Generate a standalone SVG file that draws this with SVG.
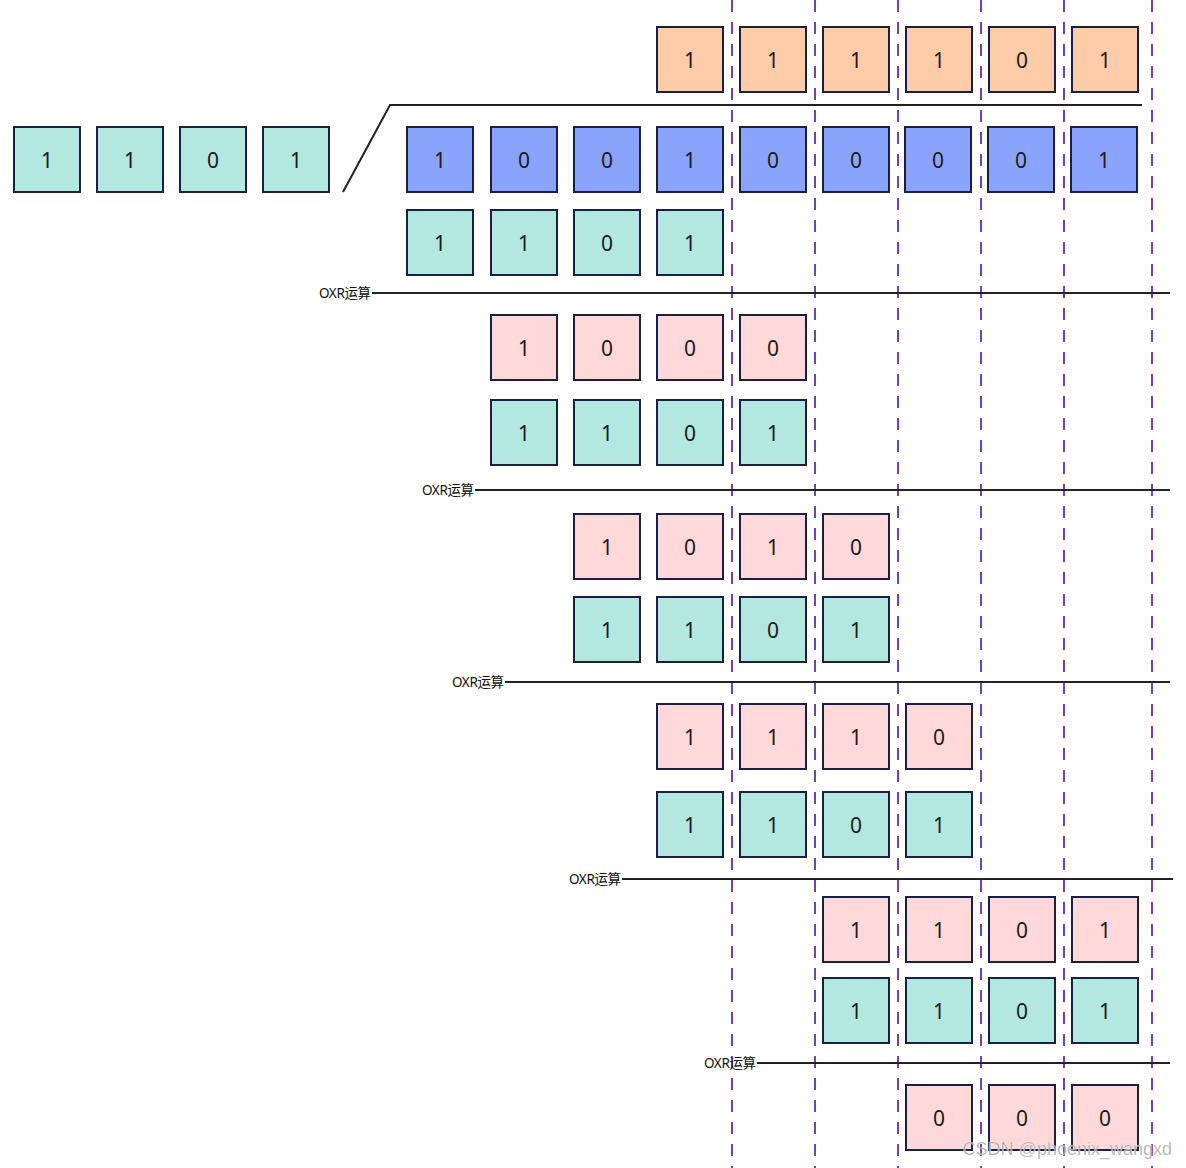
<svg xmlns="http://www.w3.org/2000/svg" width="1186" height="1168" viewBox="0 0 1186 1168">
<style>
.b{stroke:#1b1f45;stroke-width:2}
.o{fill:#ffcca9}
.u{fill:#8aa4fe}
.t{fill:#b2e8e0}
.p{fill:#ffd9d9}
.n{font-family:"Noto Sans","DejaVu Sans",sans-serif;font-size:21px;fill:#1a1a1a;text-anchor:middle;dominant-baseline:central}
.l{font-family:"Noto Sans","Noto Sans CJK SC",sans-serif;font-size:13.5px;fill:#111;text-anchor:start;dominant-baseline:central;letter-spacing:-0.4px}
.d{stroke:#7a3db5;stroke-width:2;stroke-dasharray:12 10;fill:none}
.k{stroke:#222;stroke-width:2;fill:none}
</style>
<g id="dashes">
<line class="d" x1="732" y1="0" x2="732" y2="1168"/>
<line class="d" x1="815" y1="0" x2="815" y2="1168"/>
<line class="d" x1="898" y1="0" x2="898" y2="1168"/>
<line class="d" x1="981" y1="0" x2="981" y2="1168"/>
<line class="d" x1="1064" y1="0" x2="1064" y2="1168"/>
<line class="d" x1="1152" y1="0" x2="1152" y2="1168"/>
</g>
<g id="connectors">
<polyline class="k" points="343,192 390,105 1142,105"/>
<line class="k" x1="372" y1="293" x2="1170" y2="293"/>
<line class="k" x1="475" y1="490" x2="1170" y2="490"/>
<line class="k" x1="505" y1="682" x2="1170" y2="682"/>
<line class="k" x1="622" y1="879" x2="1173" y2="879"/>
<line class="k" x1="757" y1="1063" x2="1170" y2="1063"/>
</g>
<g id="labels">
<text class="l" x="319" y="293">OXR运算</text>
<text class="l" x="422" y="490">OXR运算</text>
<text class="l" x="452" y="682">OXR运算</text>
<text class="l" x="569" y="879">OXR运算</text>
<text class="l" x="704" y="1063">OXR运算</text>
</g>
<g id="div0"><rect class="b t" x="14" y="127" width="66" height="65"/><text class="n" x="47" y="160">1</text></g>
<g id="div1"><rect class="b t" x="97" y="127" width="66" height="65"/><text class="n" x="130" y="160">1</text></g>
<g id="div2"><rect class="b t" x="180" y="127" width="66" height="65"/><text class="n" x="213" y="160">0</text></g>
<g id="div3"><rect class="b t" x="263" y="127" width="66" height="65"/><text class="n" x="296" y="160">1</text></g>
<g id="q0"><rect class="b o" x="657" y="27" width="66" height="65"/><text class="n" x="690" y="60">1</text></g>
<g id="q1"><rect class="b o" x="740" y="27" width="66" height="65"/><text class="n" x="773" y="60">1</text></g>
<g id="q2"><rect class="b o" x="823" y="27" width="66" height="65"/><text class="n" x="856" y="60">1</text></g>
<g id="q3"><rect class="b o" x="906" y="27" width="66" height="65"/><text class="n" x="939" y="60">1</text></g>
<g id="q4"><rect class="b o" x="989" y="27" width="66" height="65"/><text class="n" x="1022" y="60">0</text></g>
<g id="q5"><rect class="b o" x="1072" y="27" width="66" height="65"/><text class="n" x="1105" y="60">1</text></g>
<g id="d0"><rect class="b u" x="407" y="127" width="66" height="65"/><text class="n" x="440" y="160">1</text></g>
<g id="d1"><rect class="b u" x="491" y="127" width="66" height="65"/><text class="n" x="524" y="160">0</text></g>
<g id="d2"><rect class="b u" x="574" y="127" width="66" height="65"/><text class="n" x="607" y="160">0</text></g>
<g id="d3"><rect class="b u" x="657" y="127" width="66" height="65"/><text class="n" x="690" y="160">1</text></g>
<g id="d4"><rect class="b u" x="740" y="127" width="66" height="65"/><text class="n" x="773" y="160">0</text></g>
<g id="d5"><rect class="b u" x="823" y="127" width="66" height="65"/><text class="n" x="856" y="160">0</text></g>
<g id="d6"><rect class="b u" x="905" y="127" width="66" height="65"/><text class="n" x="938" y="160">0</text></g>
<g id="d7"><rect class="b u" x="988" y="127" width="66" height="65"/><text class="n" x="1021" y="160">0</text></g>
<g id="d8"><rect class="b u" x="1071" y="127" width="66" height="65"/><text class="n" x="1104" y="160">1</text></g>
<g id="s1t0"><rect class="b t" x="407" y="210" width="66" height="65"/><text class="n" x="440" y="243">1</text></g>
<g id="s1t1"><rect class="b t" x="491" y="210" width="66" height="65"/><text class="n" x="524" y="243">1</text></g>
<g id="s1t2"><rect class="b t" x="574" y="210" width="66" height="65"/><text class="n" x="607" y="243">0</text></g>
<g id="s1t3"><rect class="b t" x="657" y="210" width="66" height="65"/><text class="n" x="690" y="243">1</text></g>
<g id="s2p0"><rect class="b p" x="491" y="315" width="66" height="65"/><text class="n" x="524" y="348">1</text></g>
<g id="s2p1"><rect class="b p" x="574" y="315" width="66" height="65"/><text class="n" x="607" y="348">0</text></g>
<g id="s2p2"><rect class="b p" x="657" y="315" width="66" height="65"/><text class="n" x="690" y="348">0</text></g>
<g id="s2p3"><rect class="b p" x="740" y="315" width="66" height="65"/><text class="n" x="773" y="348">0</text></g>
<g id="s2t0"><rect class="b t" x="491" y="400" width="66" height="65"/><text class="n" x="524" y="433">1</text></g>
<g id="s2t1"><rect class="b t" x="574" y="400" width="66" height="65"/><text class="n" x="607" y="433">1</text></g>
<g id="s2t2"><rect class="b t" x="657" y="400" width="66" height="65"/><text class="n" x="690" y="433">0</text></g>
<g id="s2t3"><rect class="b t" x="740" y="400" width="66" height="65"/><text class="n" x="773" y="433">1</text></g>
<g id="s3p0"><rect class="b p" x="574" y="514" width="66" height="65"/><text class="n" x="607" y="547">1</text></g>
<g id="s3p1"><rect class="b p" x="657" y="514" width="66" height="65"/><text class="n" x="690" y="547">0</text></g>
<g id="s3p2"><rect class="b p" x="740" y="514" width="66" height="65"/><text class="n" x="773" y="547">1</text></g>
<g id="s3p3"><rect class="b p" x="823" y="514" width="66" height="65"/><text class="n" x="856" y="547">0</text></g>
<g id="s3t0"><rect class="b t" x="574" y="597" width="66" height="65"/><text class="n" x="607" y="630">1</text></g>
<g id="s3t1"><rect class="b t" x="657" y="597" width="66" height="65"/><text class="n" x="690" y="630">1</text></g>
<g id="s3t2"><rect class="b t" x="740" y="597" width="66" height="65"/><text class="n" x="773" y="630">0</text></g>
<g id="s3t3"><rect class="b t" x="823" y="597" width="66" height="65"/><text class="n" x="856" y="630">1</text></g>
<g id="s4p0"><rect class="b p" x="657" y="704" width="66" height="65"/><text class="n" x="690" y="737">1</text></g>
<g id="s4p1"><rect class="b p" x="740" y="704" width="66" height="65"/><text class="n" x="773" y="737">1</text></g>
<g id="s4p2"><rect class="b p" x="823" y="704" width="66" height="65"/><text class="n" x="856" y="737">1</text></g>
<g id="s4p3"><rect class="b p" x="906" y="704" width="66" height="65"/><text class="n" x="939" y="737">0</text></g>
<g id="s4t0"><rect class="b t" x="657" y="792" width="66" height="65"/><text class="n" x="690" y="825">1</text></g>
<g id="s4t1"><rect class="b t" x="740" y="792" width="66" height="65"/><text class="n" x="773" y="825">1</text></g>
<g id="s4t2"><rect class="b t" x="823" y="792" width="66" height="65"/><text class="n" x="856" y="825">0</text></g>
<g id="s4t3"><rect class="b t" x="906" y="792" width="66" height="65"/><text class="n" x="939" y="825">1</text></g>
<g id="s5p0"><rect class="b p" x="823" y="897" width="66" height="65"/><text class="n" x="856" y="930">1</text></g>
<g id="s5p1"><rect class="b p" x="906" y="897" width="66" height="65"/><text class="n" x="939" y="930">1</text></g>
<g id="s5p2"><rect class="b p" x="989" y="897" width="66" height="65"/><text class="n" x="1022" y="930">0</text></g>
<g id="s5p3"><rect class="b p" x="1072" y="897" width="66" height="65"/><text class="n" x="1105" y="930">1</text></g>
<g id="s5t0"><rect class="b t" x="823" y="978" width="66" height="65"/><text class="n" x="856" y="1011">1</text></g>
<g id="s5t1"><rect class="b t" x="906" y="978" width="66" height="65"/><text class="n" x="939" y="1011">1</text></g>
<g id="s5t2"><rect class="b t" x="989" y="978" width="66" height="65"/><text class="n" x="1022" y="1011">0</text></g>
<g id="s5t3"><rect class="b t" x="1072" y="978" width="66" height="65"/><text class="n" x="1105" y="1011">1</text></g>
<g id="r0"><rect class="b p" x="906" y="1085" width="66" height="65"/><text class="n" x="939" y="1118">0</text></g>
<g id="r1"><rect class="b p" x="989" y="1085" width="66" height="65"/><text class="n" x="1022" y="1118">0</text></g>
<g id="r2"><rect class="b p" x="1072" y="1085" width="66" height="65"/><text class="n" x="1105" y="1118">0</text></g>
<text x="1172" y="1149" font-family="'Liberation Sans',Arial,sans-serif" font-size="18" fill="#9a9a9a" fill-opacity="0.9" stroke="#ffffff" stroke-opacity="0.5" stroke-width="0.6" text-anchor="end" dominant-baseline="central">CSDN @phoenix_wangxd</text>
</svg>
